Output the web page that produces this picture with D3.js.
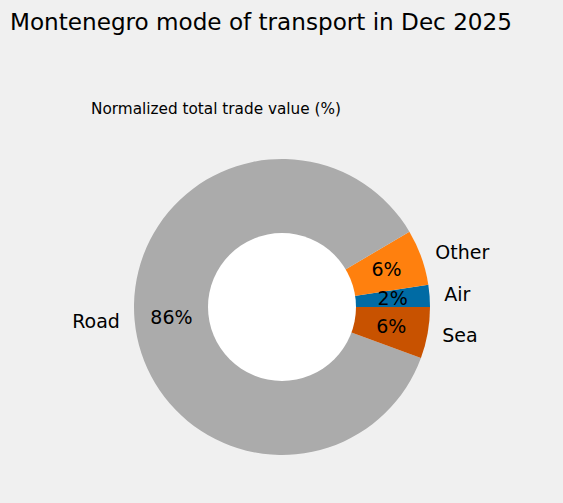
<!DOCTYPE html>
<html>
<head>
<meta charset="utf-8">
<script src="https://cdn.jsdelivr.net/npm/d3@7"></script>
<style>
  html, body { margin: 0; padding: 0; background: #f0f0f0; }
  svg { display: block; font-family: "DejaVu Sans", sans-serif; }
</style>
</head>
<body>
<div id="chart"></div>
<script>
// Set up conventions
let width = 563;
let height = 503;

// data, in matplotlib order (counterclockwise from 3 o'clock)
let modes = ["Air", "Other", "Road", "Sea"];
let shares = [2.4, 6.1, 85.9, 5.6];
let colors = ["#006ba4", "#ff800e", "#ababab", "#c85200"];

let title = "Montenegro mode of transport in Dec 2025";
let subtitle = "Normalized total trade value (%)";

let cx = 282, cy = 307;
let radius = 148;

let svg = d3.select("#chart")
    .append("svg")
    .attr("width", width)
    .attr("height", height)

svg.append("rect")
    .attr("width", width)
    .attr("height", height)
    .attr("fill", "#f0f0f0")

svg.append("text")
    .attr("x", 261)
    .attr("y", 30)
    .attr("text-anchor", "middle")
    .attr("textLength", 502)
    .attr("lengthAdjust", "spacingAndGlyphs")
    .style("font-size", "23.8px")
    .attr("fill", "#000")
    .text(title)

svg.append("text")
    .attr("x", 216)
    .attr("y", 114)
    .attr("text-anchor", "middle")
    .attr("textLength", 250)
    .attr("lengthAdjust", "spacingAndGlyphs")
    .style("font-size", "16.2px")
    .attr("fill", "#000")
    .text(subtitle)

let data = modes.map((m, i) => ({mode: m, value: shares[i], color: colors[i]}))

// matplotlib: start at 3 o'clock, go counterclockwise
let pie = d3.pie()
    .sort(null)
    .value(d => d.value)
    .startAngle(Math.PI / 2)
    .endAngle(Math.PI / 2 - 2 * Math.PI)

let arcs = pie(data)

let arc = d3.arc()
    .innerRadius(0)
    .outerRadius(radius)

let g = svg.append("g")
    .attr("transform", "translate(" + cx + "," + cy + ")")

g.selectAll(".slice")
    .data(arcs)
    .enter()
    .append("path")
    .attr("class", "slice")
    .attr("d", arc)
    .attr("fill", d => d.data.color)

// hole
g.append("circle")
    .attr("r", radius * 0.5)
    .attr("fill", "#ffffff")

let midAngle = d => (d.startAngle + d.endAngle) / 2
let fmt = d3.format(".0f")

// percentage labels
g.selectAll(".pct")
    .data(arcs)
    .enter()
    .append("text")
    .attr("class", "pct")
    .attr("x", d => Math.sin(midAngle(d)) * radius * 0.75)
    .attr("y", d => -Math.cos(midAngle(d)) * radius * 0.75 + 6.5)
    .attr("text-anchor", "middle")
    .style("font-size", "19px")
    .attr("fill", "#000")
    .text(d => fmt(d.data.value) + "%")

// category labels
g.selectAll(".lbl")
    .data(arcs)
    .enter()
    .append("text")
    .attr("class", "lbl")
    .attr("x", d => Math.sin(midAngle(d)) * radius * 1.1)
    .attr("y", d => -Math.cos(midAngle(d)) * radius * 1.1 + 6.2)
    .attr("text-anchor", d => Math.sin(midAngle(d)) >= 0 ? "start" : "end")
    .style("font-size", "19px")
    .attr("fill", "#000")
    .text(d => d.data.mode)
</script>
</body>
</html>
